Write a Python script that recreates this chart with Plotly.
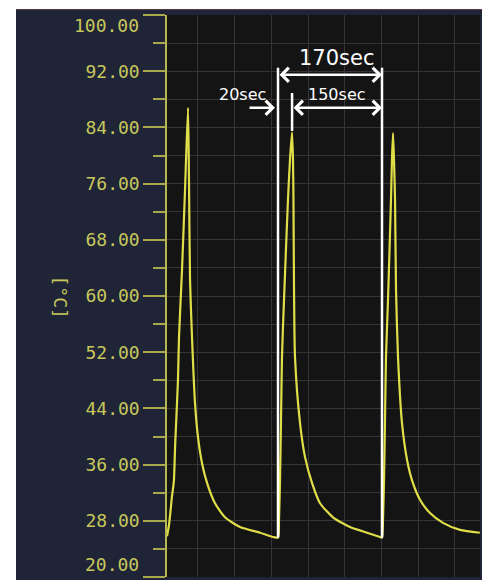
import plotly.graph_objects as go

# ---- data ----
time_s = [-1.4, 1.8, 5.0, 6.7, 8.3, 9.9, 12.0, 16.5, 18.2, 23.1, 28.0, 32.9,
          34.5, 36.2, 39.4, 44.3, 49.2, 55.8, 64.0, 77.0, 93.4, 117.9, 150.6, 171.8, 180.0,
          181.6, 183.3, 184.9, 186.5, 189.8, 196.3, 199.6, 202.9,
          204.5, 205.3, 206.2, 207.8, 216.0, 224.1, 235.6, 248.7, 269.9, 297.7, 325.5, 346.7, 350.0,
          351.6, 353.3, 354.9, 356.5, 359.8, 364.7, 366.3, 368.0,
          369.6, 371.3, 372.9, 376.2, 382.7, 390.9, 399.0, 412.1, 428.5, 449.7, 477.5, 510.0]
temp_c = [25.8, 27.4, 30.0, 31.5, 32.5, 33.8, 39.0, 48.0, 54.2, 63.7, 75.1, 86.8,
          76.5, 62.3, 54.2, 44.8, 39.9, 36.2, 33.4, 30.5, 28.5, 27.1, 26.3, 25.7, 25.6,
          28.1, 33.8, 42.3, 51.3, 59.4, 73.7, 79.4, 83.3,
          79.4, 73.7, 60.9, 51.3, 41.9, 37.1, 33.4, 30.5, 28.5, 27.1, 26.3, 25.7, 25.6,
          28.1, 33.8, 42.3, 51.3, 59.4, 73.7, 79.4, 83.2,
          79.4, 73.7, 60.9, 51.3, 41.9, 36.7, 33.8, 31.0, 29.1, 27.7, 26.7, 26.3]

y_ticks = [20, 28, 36, 44, 52, 60, 68, 76, 84, 92, 100]
y_tick_labels = ["%.2f" % v for v in y_ticks]
y_unit = "[°C]"

cycle_start_s = [180.0, 350.0]      # white marker lines
heat_end_s = 203.0                  # end of 20 s heating
marker_top_c = 92.5
marker_base_c = 25.6
peak2_c = 83.5
label_170 = "170sec"
label_150 = "150sec"
label_20 = "20sec"

# ---- layout helpers ----
W, H = 486, 580
L, R, T, B = 167, 6, 15, 3
PW, PH = W - L - R, H - T - B


def px_x(px):
    return (px - L) / PW


def px_y(py):
    return 1 - (py - T) / PH


YELLOW = "#c8c85c"
TICK = "#aaaa4c"
GRID = "#363434"
CURVE = "#e0de48"

fig = go.Figure()
fig.add_trace(go.Scatter(x=time_s, y=temp_c, mode="lines",
                         line=dict(color=CURVE, width=2.2, shape="spline", smoothing=0.6),
                         hoverinfo="skip"))

shapes = [
    # white outer margins
    dict(type="rect", xref="paper", yref="paper", x0=px_x(0), x1=px_x(16), y0=px_y(H), y1=px_y(0),
         fillcolor="white", line=dict(width=0), layer="below"),
    dict(type="rect", xref="paper", yref="paper", x0=px_x(0), x1=px_x(W), y0=px_y(9), y1=px_y(0),
         fillcolor="white", line=dict(width=0), layer="below"),
    dict(type="rect", xref="paper", yref="paper", x0=px_x(482), x1=px_x(W), y0=px_y(H), y1=px_y(0),
         fillcolor="white", line=dict(width=0), layer="below"),
    dict(type="line", xref="paper", yref="paper", x0=px_x(16), x1=px_x(482), y0=px_y(9.5), y1=px_y(9.5),
         line=dict(color="#5a3a44", width=1)),
]
for xs in cycle_start_s:
    shapes.append(dict(type="line", xref="x", yref="y", x0=xs, x1=xs, y0=marker_base_c, y1=marker_top_c,
                       line=dict(color="white", width=2.5)))
shapes.append(dict(type="line", xref="x", yref="y", x0=heat_end_s, x1=heat_end_s, y0=peak2_c, y1=88.9,
                   line=dict(color="white", width=2.5)))

annotations = [
    dict(text=y_unit, xref="paper", yref="paper", x=px_x(48), y=px_y(297), textangle=90,
         showarrow=False, font=dict(family="DejaVu Sans Mono", size=18, color=YELLOW)),
    dict(text=y_tick_labels[-1], xref="paper", yref="paper", x=px_x(141), y=px_y(25),
         xanchor="right", yanchor="middle", showarrow=False,
         font=dict(family="DejaVu Sans Mono", size=18, color=YELLOW)),
    dict(text=y_tick_labels[0], xref="paper", yref="paper", x=px_x(141), y=px_y(564),
         xanchor="right", yanchor="middle", showarrow=False,
         font=dict(family="DejaVu Sans Mono", size=18, color=YELLOW)),
    # arrows
    dict(x=cycle_start_s[1], y=91.5, ax=cycle_start_s[0], ay=91.5, xref="x", yref="y", axref="x", ayref="y",
         text="", showarrow=True, arrowhead=4, startarrowhead=4, arrowside="end+start",
         arrowwidth=2.5, arrowsize=1.1, startarrowsize=1.1, arrowcolor="white"),
    dict(x=cycle_start_s[1], y=86.8, ax=heat_end_s, ay=86.8, xref="x", yref="y", axref="x", ayref="y",
         text="", showarrow=True, arrowhead=4, startarrowhead=4, arrowside="end+start",
         arrowwidth=2.5, arrowsize=1.1, startarrowsize=1.1, arrowcolor="white"),
    dict(x=175.0, y=86.8, ax=131.0, ay=86.8, xref="x", yref="y", axref="x", ayref="y",
         text="", showarrow=True, arrowhead=4, arrowwidth=2.5, arrowsize=1.1, arrowcolor="white"),
    dict(text=label_170, x=276.4, y=93.9, xref="x", yref="y", showarrow=False,
         font=dict(family="DejaVu Sans", size=21, color="white")),
    dict(text=label_150, x=276.4, y=88.75, xref="x", yref="y", showarrow=False,
         font=dict(family="DejaVu Sans", size=16, color="white")),
    dict(text=label_20, x=121.2, y=88.75, xref="x", yref="y", showarrow=False,
         font=dict(family="DejaVu Sans", size=16, color="white")),
]

fig.update_layout(
    width=W, height=H,
    margin=dict(l=L, r=R, t=T, b=B),
    paper_bgcolor="#1f2437",
    plot_bgcolor="#151414",
    showlegend=False,
    shapes=shapes,
    annotations=annotations,
    xaxis=dict(range=[-1.44, 510.2], showticklabels=False, ticks="", showgrid=True,
               gridcolor=GRID, gridwidth=1, tick0=49.2, dtick=60, zeroline=False, showline=False),
    yaxis=dict(range=[20, 100], tickvals=y_ticks,
               ticktext=[""] + y_tick_labels[1:-1] + [""],
               tickfont=dict(family="DejaVu Sans Mono", size=18, color=YELLOW),
               ticks="outside", ticklen=22, tickwidth=1.5, tickcolor=TICK,
               showline=True, linecolor="#b8b850", linewidth=1.5,
               showgrid=True, gridcolor=GRID, zeroline=False,
               minor=dict(tick0=20, dtick=4, ticks="outside", ticklen=12, tickwidth=1.5,
                          tickcolor=TICK, showgrid=True, gridcolor=GRID)),
)

fig.write_html("out.html", config={"displayModeBar": False},
               post_script="document.body.style.margin='0';document.body.style.overflow='hidden';")
